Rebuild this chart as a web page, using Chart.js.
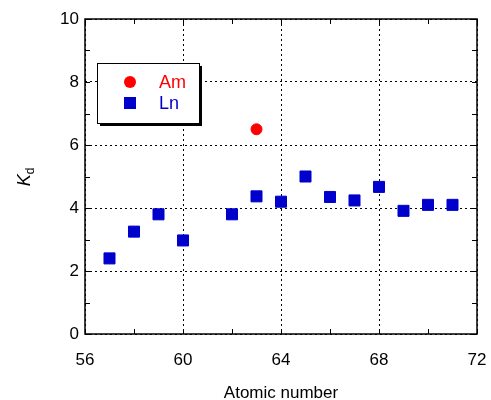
<!DOCTYPE html>
<html lang="en">
<head>
    <meta charset="UTF-8">
    <title>Kd vs atomic number</title>
    <script src="https://cdn.jsdelivr.net/npm/chart.js"></script>
    <style>
        html, body { margin: 0; padding: 0; background: #fff; }
        #wrap { width: 491px; height: 400px; }
    </style>
</head>
<body>
    <div id="wrap"><canvas id="grafico" width="491" height="400"></canvas></div>

    <script>
        // datos
        const amAtomic = [63];
        const amKd = [6.5];
        const lnAtomic = [57, 58, 59, 60, 62, 63, 64, 65, 66, 67, 68, 69, 70, 71];
        const lnKd = [2.40, 3.25, 3.80, 2.97, 3.80, 4.37, 4.20, 5.00, 4.35, 4.24, 4.67, 3.91, 4.10, 4.10];
        const xTicks = [56, 60, 64, 68, 72];
        const yTicks = [0, 2, 4, 6, 8, 10];

        const FONT = 'Liberation Sans, Arial, sans-serif';

        // marco, ticks hacia dentro, leyenda y titulos
        const decoracion = {
            id: 'decoracion',
            afterDraw(chart) {
                const ctx = chart.ctx;
                const a = chart.chartArea;
                const xs = chart.scales.x, ys = chart.scales.y;
                ctx.save();
                ctx.strokeStyle = '#000';
                ctx.lineWidth = 1;
                ctx.beginPath();
                for (let v = 56; v <= 72; v += 2) {
                    const px = Math.round(xs.getPixelForValue(v)) + 0.5;
                    ctx.moveTo(px, a.bottom); ctx.lineTo(px, a.bottom - 5);
                    ctx.moveTo(px, a.top); ctx.lineTo(px, a.top + 5);
                }
                for (let v = 0; v <= 10; v += 1) {
                    const py = Math.round(ys.getPixelForValue(v)) + 0.5;
                    ctx.moveTo(a.left, py); ctx.lineTo(a.left + 5, py);
                    ctx.moveTo(a.right, py); ctx.lineTo(a.right - 5, py);
                }
                ctx.stroke();
                ctx.lineWidth = 1.5;
                ctx.strokeRect(a.left, a.top, a.right - a.left, a.bottom - a.top);

                // leyenda
                const lx = 97, ly = 63, lw = 102, lh = 60;
                ctx.fillStyle = '#000';
                ctx.fillRect(lx + 3, ly + 3, lw, lh);
                ctx.fillStyle = '#fff';
                ctx.fillRect(lx, ly, lw, lh);
                ctx.lineWidth = 1;
                ctx.strokeStyle = '#000';
                ctx.strokeRect(lx + 0.5, ly + 0.5, lw, lh);
                chart.data.datasets.forEach((ds, i) => {
                    const cy = 82 + i * 21;
                    ctx.fillStyle = ds.backgroundColor;
                    if (ds.pointStyle === 'rect') {
                        ctx.fillRect(124, cy - 6, 12, 12);
                    } else {
                        ctx.beginPath();
                        ctx.arc(130, cy, 6, 0, Math.PI * 2);
                        ctx.fill();
                    }
                    ctx.font = '18px ' + FONT;
                    ctx.textBaseline = 'middle';
                    ctx.textAlign = 'left';
                    ctx.fillText(ds.label, 159, cy + 1);
                });

                // titulo eje x
                ctx.fillStyle = '#000';
                ctx.font = '17px ' + FONT;
                ctx.textAlign = 'center';
                ctx.textBaseline = 'middle';
                ctx.fillText('Atomic number', (a.left + a.right) / 2, 393);

                // titulo eje y: K con subindice d
                ctx.translate(24, 177);
                ctx.rotate(-Math.PI / 2);
                ctx.textAlign = 'left';
                ctx.textBaseline = 'alphabetic';
                ctx.font = 'italic 18px ' + FONT;
                const kw = ctx.measureText('K').width;
                ctx.font = '12px ' + FONT;
                const dw = ctx.measureText('d').width;
                const x0 = -(kw + dw) / 2;
                ctx.font = 'italic 18px ' + FONT;
                ctx.fillText('K', x0, 6);
                ctx.font = '12px ' + FONT;
                ctx.fillText('d', x0 + kw, 10);
                ctx.restore();
            }
        };

        const ctx = document.getElementById('grafico').getContext('2d');
        new Chart(ctx, {
            type: 'scatter',
            data: {
                datasets: [{
                    label: 'Am',
                    data: amAtomic.map((x, i) => ({ x: x, y: amKd[i] })),
                    pointStyle: 'circle',
                    backgroundColor: '#ff0000',
                    borderColor: '#ff0000',
                    borderWidth: 1,
                    pointRadius: 5.5
                }, {
                    label: 'Ln',
                    data: lnAtomic.map((x, i) => ({ x: x, y: lnKd[i] })),
                    pointStyle: 'rect',
                    backgroundColor: '#0000cc',
                    borderColor: '#0000cc',
                    borderWidth: 1,
                    pointRadius: 7.8
                }]
            },
            options: {
                responsive: false,
                animation: false,
                layout: { padding: { top: 19, right: 14, left: 0, bottom: 0 } },
                plugins: {
                    legend: { display: false },
                    tooltip: { enabled: false }
                },
                scales: {
                    x: {
                        type: 'linear',
                        min: 56, max: 72,
                        afterBuildTicks: s => { s.ticks = xTicks.map(v => ({ value: v })); },
                        afterFit: s => { s.height = 66; s.paddingLeft = 0; s.paddingRight = 0; },
                        border: { display: false, dash: [2, 3] },
                        grid: { color: '#000', lineWidth: 1, drawTicks: false },
                        ticks: { color: '#000', padding: 16, font: { family: FONT, size: 17 } }
                    },
                    y: {
                        type: 'linear',
                        min: 0, max: 10,
                        afterBuildTicks: s => { s.ticks = yTicks.map(v => ({ value: v })); },
                        afterFit: s => { s.width = 85; s.paddingTop = 0; s.paddingBottom = 0; },
                        border: { display: false, dash: [2, 3] },
                        grid: { color: '#000', lineWidth: 1, drawTicks: false },
                        ticks: { color: '#000', padding: 6, font: { family: FONT, size: 17 } }
                    }
                }
            },
            plugins: [decoracion]
        });
    </script>
</body>
</html>
